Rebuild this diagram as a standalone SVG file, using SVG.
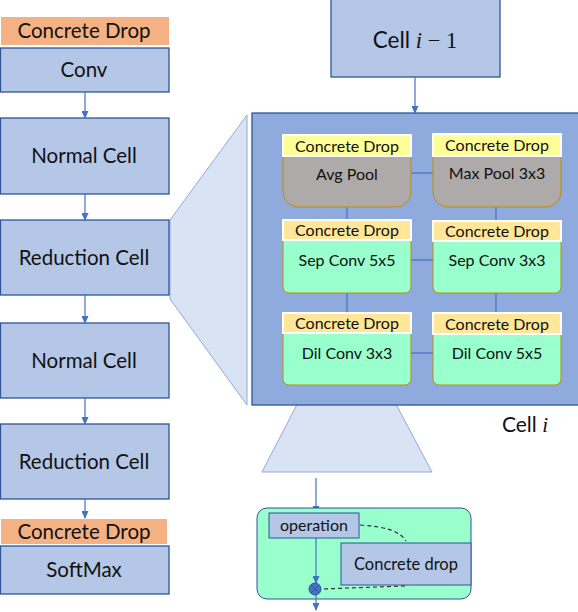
<svg xmlns="http://www.w3.org/2000/svg" width="578" height="612" viewBox="0 0 578 612">
<defs>
<marker id="ah" markerWidth="8" markerHeight="7" refX="7" refY="3.5" orient="auto" markerUnits="userSpaceOnUse">
<path d="M0,0 L8,3.5 L0,7 Z" fill="#4472C4"/>
</marker>
<style>
text{font-family:Lato,"Open Sans","Liberation Sans",sans-serif;fill:#111;text-anchor:middle}
.blk{fill:#B4C7E7;stroke:#2F5597;stroke-width:1.3}
.org{fill:#F4B183}
.lt{font-size:20.5px}
.st{font-size:16px}
.yl1{fill:#FFFF99;stroke:#fff;stroke-width:2}
.yl2{fill:#FFE699;stroke:#fff;stroke-width:2}
.gray{fill:#AEAAAA;stroke:#BF9000;stroke-width:1}
.grn{fill:#99FFCC;stroke:#BF9000;stroke-width:1}
.con{stroke:#4472C4;stroke-width:1.2;fill:none}
.trap{fill:#DAE3F3;stroke:#8FAADC;stroke-width:1}
.dash{stroke:#333;stroke-width:1.2;fill:none;stroke-dasharray:4 3}
.math{font-family:"Liberation Serif","DejaVu Serif",serif;font-style:italic}
</style>
</defs>

<!-- zoom trapezoids -->
<g id="trap-left"><path class="trap" d="M170,220 L247,115 L247,405 L170,299 Z"/></g>
<g id="trap-bottom"><path class="trap" d="M304,391 L389,391 L432,472 L262,472 Z"/></g>

<!-- left column -->
<g id="cd-top"><rect class="org" x="1" y="17" width="168" height="28"/><text class="lt" x="84" y="38">Concrete Drop</text></g>
<g id="conv"><rect class="blk" x="0.5" y="48" width="168.5" height="44"/><text class="lt" x="84" y="77">Conv</text></g>
<g id="normal1"><rect class="blk" x="0.5" y="118" width="168.5" height="76"/><text class="lt" x="84" y="163">Normal Cell</text></g>
<g id="reduction1"><rect class="blk" x="0.5" y="220" width="168.5" height="75"/><text class="lt" x="84" y="265">Reduction Cell</text></g>
<g id="normal2"><rect class="blk" x="0.5" y="323" width="168.5" height="75"/><text class="lt" x="84" y="368">Normal Cell</text></g>
<g id="reduction2"><rect class="blk" x="0.5" y="424" width="168.5" height="75"/><text class="lt" x="84" y="469">Reduction Cell</text></g>
<g id="cd-bottom"><rect class="org" x="1" y="519" width="166" height="25"/><text class="lt" x="84" y="539">Concrete Drop</text></g>
<g id="softmax"><rect class="blk" x="0.5" y="546" width="168.5" height="48"/><text class="lt" x="84" y="577">SoftMax</text></g>

<!-- Cell i-1 -->
<g id="cell-prev"><rect class="blk" x="331" y="-1" width="169" height="78"/><text x="415" y="48" style="font-size:22.5px"><tspan>Cell </tspan><tspan class="math">i</tspan><tspan font-family="Liberation Serif,serif"> − 1</tspan></text></g>

<!-- Cell i -->
<g id="cell-i">
<rect x="252" y="113" width="330" height="292" fill="#8FAADC" stroke="#2F5597" stroke-width="1.3"/>
<text x="525" y="432" style="font-size:21px"><tspan>Cell </tspan><tspan class="math">i</tspan></text>
</g>

<!-- connectors -->
<g id="connectors">
<line class="con" x1="85" y1="92" x2="85" y2="118" marker-end="url(#ah)"/>
<line class="con" x1="85" y1="194" x2="85" y2="220" marker-end="url(#ah)"/>
<line class="con" x1="85" y1="295" x2="85" y2="323" marker-end="url(#ah)"/>
<line class="con" x1="85" y1="398" x2="85" y2="424" marker-end="url(#ah)"/>
<line class="con" x1="85" y1="499" x2="85" y2="518" marker-end="url(#ah)"/>
<line class="con" x1="415" y1="77" x2="415" y2="113" marker-end="url(#ah)"/>
<line class="con" x1="411" y1="173" x2="433" y2="173"/>
<line class="con" x1="411" y1="260" x2="433" y2="260"/>
<line class="con" x1="411" y1="353" x2="433" y2="353"/>
<line class="con" x1="347" y1="207" x2="347" y2="220"/>
<line class="con" x1="347" y1="293" x2="347" y2="313"/>
<line class="con" x1="496" y1="207" x2="496" y2="220"/>
<line class="con" x1="496" y1="293" x2="496" y2="313"/>
<line class="con" x1="316" y1="478" x2="316" y2="513" marker-end="url(#ah)"/>
</g>

<!-- ops -->
<g id="avg-pool"><rect class="gray" x="283" y="140" width="128" height="67" rx="15"/><rect class="yl1" x="283" y="135" width="128" height="21"/><text class="st" x="347" y="151.5">Concrete Drop</text><text class="st" x="347" y="180">Avg Pool</text></g>
<g id="max-pool"><rect class="gray" x="433" y="140" width="128" height="67" rx="15"/><rect class="yl1" x="433" y="134" width="128" height="22"/><text class="st" x="497" y="151">Concrete Drop</text><text class="st" x="497" y="179">Max Pool 3x3</text></g>
<g id="sep5"><rect class="grn" x="283" y="226" width="128" height="67" rx="6"/><rect class="yl2" x="283" y="220" width="128" height="20"/><text class="st" x="347" y="236">Concrete Drop</text><text class="st" x="347" y="266">Sep Conv 5x5</text></g>
<g id="sep3"><rect class="grn" x="433" y="226" width="128" height="67" rx="6"/><rect class="yl2" x="433" y="221" width="128" height="20"/><text class="st" x="497" y="237">Concrete Drop</text><text class="st" x="497" y="266">Sep Conv 3x3</text></g>
<g id="dil3"><rect class="grn" x="283" y="318" width="128" height="67" rx="6"/><rect class="yl2" x="283" y="313" width="128" height="20"/><text class="st" x="347" y="329">Concrete Drop</text><text class="st" x="347" y="359">Dil Conv 3x3</text></g>
<g id="dil5"><rect class="grn" x="433" y="318" width="128" height="67" rx="6"/><rect class="yl2" x="433" y="313" width="128" height="21"/><text class="st" x="497" y="330">Concrete Drop</text><text class="st" x="497" y="359">Dil Conv 5x5</text></g>

<!-- detail box -->
<g id="detail">
<rect x="257" y="508" width="214" height="91" rx="10" fill="#99FFCC" stroke="#2F5597" stroke-width="1"/>
</g>
<g id="operation"><rect x="269" y="513" width="90" height="25" fill="#B4C7E7" stroke="#2F5597" stroke-width="1"/><text x="314" y="531" style="font-size:16px">operation</text></g>
<g id="concrete-drop"><rect x="341" y="543" width="130" height="42" fill="#B4C7E7" stroke="#2F5597" stroke-width="1"/><text x="406" y="569.5" style="font-size:16.5px">Concrete drop</text></g>
<g id="detail-connectors">
<line class="con" x1="316" y1="538" x2="316" y2="583" marker-end="url(#ah)"/>
<line class="con" x1="316" y1="595" x2="316" y2="610" marker-end="url(#ah)"/>
<path class="dash" d="M360,525 Q398,527 406,541"/>
<path class="dash" d="M405,586 L322,589"/>
</g>
<g id="multiply">
<circle cx="315" cy="589" r="6" fill="#4472C4" stroke="#2F5597" stroke-width="1"/>
<path d="M311,585 L319,593 M319,585 L311,593" stroke="#2F5597" stroke-width="0.8"/>
</g>
</svg>
